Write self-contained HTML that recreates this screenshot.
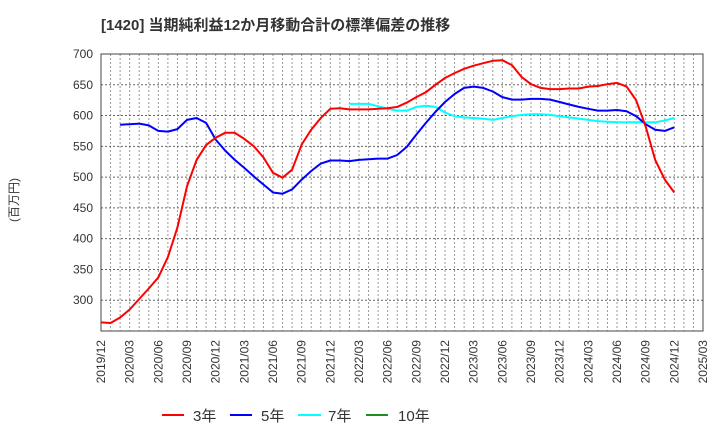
<!DOCTYPE html>
<html><head><meta charset="utf-8"><style>
body{margin:0;background:#fff;}
svg{display:block;font-family:"Liberation Sans","Noto Sans CJK JP",sans-serif;}
</style></head><body>
<svg id="c" width="720" height="440">
<text x="101" y="30" font-size="15" font-weight="bold" fill="#333">[1420]  当期純利益12か月移動合計の標準偏差の推移</text>
<text transform="translate(18,200) rotate(-90)" text-anchor="middle" font-size="12" fill="#333">(百万円)</text>
<g id="grid"></g><g id="series"></g><g id="axes"></g>
<g>
<g><line x1="162" y1="415" x2="184" y2="415" stroke="#f00" stroke-width="2"/><text x="193" y="421" font-size="15" fill="#333">3年</text></g>
<g><line x1="230" y1="415" x2="252" y2="415" stroke="#00f" stroke-width="2"/><text x="261" y="421" font-size="15" fill="#333">5年</text></g>
<g><line x1="298" y1="415" x2="321" y2="415" stroke="#0ff" stroke-width="2"/><text x="328" y="421" font-size="15" fill="#333">7年</text></g>
<g><line x1="366" y1="415" x2="388" y2="415" stroke="#228b22" stroke-width="2"/><text x="398" y="421" font-size="15" fill="#333">10年</text></g>
</g>
</svg>
<script>
const xTickLabels=["2019/12","2020/03","2020/06","2020/09","2020/12","2021/03","2021/06","2021/09","2021/12","2022/03","2022/06","2022/09","2022/12","2023/03","2023/06","2023/09","2023/12","2024/03","2024/06","2024/09","2024/12","2025/03"];
const yTicks=[300,350,400,450,500,550,600,650,700];
const red=[264,263,272,285,302,319,337,370,418,485,528,552,564,572,572,562,550,532,507,499,512,553,577,596,611,612,610,610,610,611,612,614,621,630,638,650,661,669,676,681,685,689,690,682,663,651,645,643,643,644,644,647,648,651,653,647,625,582,528,496,475];
const blueStart=2;
const blue=[585,586,587,584,575,574,578,593,596,588,561,543,528,515,501,488,475,473,480,496,510,522,527,527,526,528,529,530,530,536,549,569,588,606,622,635,645,647,645,639,630,626,626,627,627,626,622,618,614,611,608,608,609,607,599,586,577,575,581];
const cyanStart=26;
const cyan=[619,619,619,615,611,608,608,614,616,614,605,599,597,596,595,593,596,599,601,602,602,601,599,597,595,593,591,590,589,589,589,589,589,592,596];
const L=101,R=703,T=54,B=331,NM=63,YMIN=250,YMAX=700;
const X=i=>L+(R-L)*i/NM, Y=v=>B-(B-T)*(v-YMIN)/(YMAX-YMIN);
const NS="http://www.w3.org/2000/svg";
function mk(tag,attrs,parent){const e=document.createElementNS(NS,tag);for(const k in attrs)e.setAttribute(k,attrs[k]);parent.appendChild(e);return e;}
const grid=document.getElementById('grid'),axes=document.getElementById('axes'),ser=document.getElementById('series');
for(let m=1;m<NM;m++){const l=mk('line',{x1:X(m),x2:X(m),y1:T,y2:B,stroke:'#999','stroke-dasharray':'2,2','stroke-width':1},grid);

}
yTicks.forEach(v=>{const l=mk('line',{x1:L,x2:R,y1:Y(v),y2:Y(v),stroke:'#666','stroke-dasharray':'2,2','stroke-width':1},grid);


const t=mk('text',{x:L-8,y:Y(v)+4,'text-anchor':'end','font-size':12,fill:'#333'},axes);t.textContent=v;

});
xTickLabels.forEach((s,k)=>{const x=X(k*3);const t=mk('text',{transform:`translate(${x+4},340) rotate(-90)`,'text-anchor':'end','font-size':12,fill:'#333'},axes);t.textContent=s;

});
const fr=mk('rect',{x:L,y:T,width:R-L,height:B-T,fill:'none',stroke:'#444','stroke-width':1},axes);


function line(arr,start,color,name){const p=arr.map((v,i)=>X(start+i).toFixed(1)+','+Y(v).toFixed(1)).join(' ');
const e=mk('polyline',{points:p,fill:'none',stroke:color,'stroke-width':2,'stroke-linejoin':'round'},ser);

}
line(cyan,cyanStart,'#00ffff','series-7y');
line(blue,blueStart,'#0000ff','series-5y');
line(red,0,'#ff0000','series-3y');
</script>
</body></html>
